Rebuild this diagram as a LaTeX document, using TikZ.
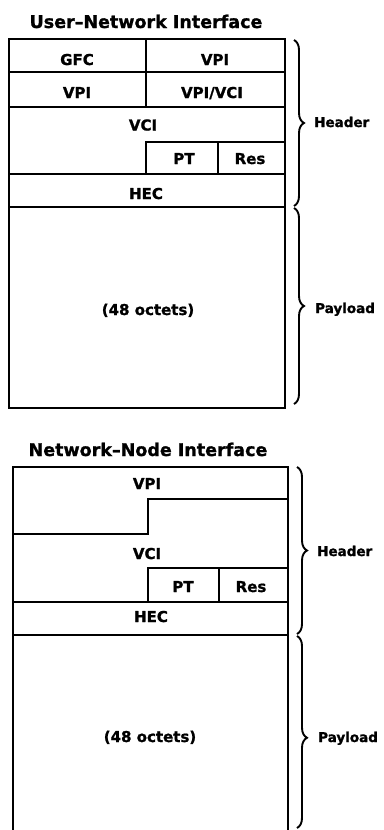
\documentclass[tikz,border=0pt]{standalone}
\usepackage{fontspec}
\setmainfont{DejaVu Sans}[BoldFeatures={FakeBold=1.2}]
\usetikzlibrary{decorations.pathreplacing}
\begin{document}
\begin{tikzpicture}[x=1pt,y=-1pt,
  frame/.style={line width=2.3pt},
  lab/.style={font=\fontsize{15}{17}\selectfont\bfseries, inner sep=0pt, anchor=base},
  ttl/.style={font=\fontsize{17.5}{20}\selectfont\bfseries, inner sep=0pt, anchor=base},
  side/.style={font=\fontsize{13.5}{16}\selectfont\bfseries, inner sep=0pt, anchor=base west},
  brc/.style={decorate, decoration={brace, amplitude=10pt}, line width=1.9pt}]
\useasboundingbox (0,0) rectangle (383,830);

% ---------- User-Network Interface ----------
\node[ttl] (t1) at (146,28) {User–Network Interface};
\draw[frame] (9,39) rectangle (285,408);
\draw[frame] (9,72) -- (285,72);
\draw[frame] (9,107) -- (285,107);
\draw[frame] (146,39) -- (146,107);
\draw[frame] (146,174) -- (146,142) -- (285,142);
\draw[frame] (218,142) -- (218,174);
\draw[frame] (9,174) -- (285,174);
\draw[frame] (9,207) -- (285,207);

\node[lab] (gfc) at (77,65) {GFC};
\node[lab] (vpia) at (215,65) {VPI};
\node[lab] (vpib) at (77,98) {VPI};
\node[lab] (vpivci) at (212,98) {VPI/VCI};
\node[lab] (vcia) at (143,130.5) {VCI};
\node[lab] (pta) at (184,164) {PT};
\node[lab] (resa) at (250,164) {Res};
\node[lab] (heca) at (146,199) {HEC};
\node[lab] (oca) at (148,315) {(48 octets)};

\coordinate (hA1) at (294,40);
\coordinate (hA2) at (294,206);
\coordinate (pA1) at (294,208);
\coordinate (pA2) at (294,404);
\draw[brc] (hA1) -- (hA2);
\draw[brc] (pA1) -- (pA2);
\node[side] (hdra) at (314,127) {Header};
\node[side] (pla) at (315,313) {Payload};

% ---------- Network-Node Interface ----------
\node[ttl] (t2) at (148,456) {Network–Node Interface};
\draw[frame] (13,832) -- (13,467) -- (288,467) -- (288,832);
\draw[frame] (288,499) -- (148,499) -- (148,534) -- (13,534);
\draw[frame] (148,602) -- (148,568) -- (288,568);
\draw[frame] (219,568) -- (219,602);
\draw[frame] (13,602) -- (288,602);
\draw[frame] (13,635) -- (288,635);

\node[lab] (vpic) at (147,489) {VPI};
\node[lab] (vcic) at (147,559) {VCI};
\node[lab] (ptc) at (183,592) {PT};
\node[lab] (resc) at (251,592) {Res};
\node[lab] (hecc) at (151,622) {HEC};
\node[lab] (occ) at (150,742) {(48 octets)};

\coordinate (hB1) at (297,467);
\coordinate (hB2) at (297,634);
\coordinate (pB1) at (297,636);
\coordinate (pB2) at (297,828);
\draw[brc] (hB1) -- (hB2);
\draw[brc, decoration={aspect=0.53}] (pB1) -- (pB2);
\node[side] (hdrc) at (317,556) {Header};
\node[side] (plc) at (318,742) {Payload};
\end{tikzpicture}
\end{document}
